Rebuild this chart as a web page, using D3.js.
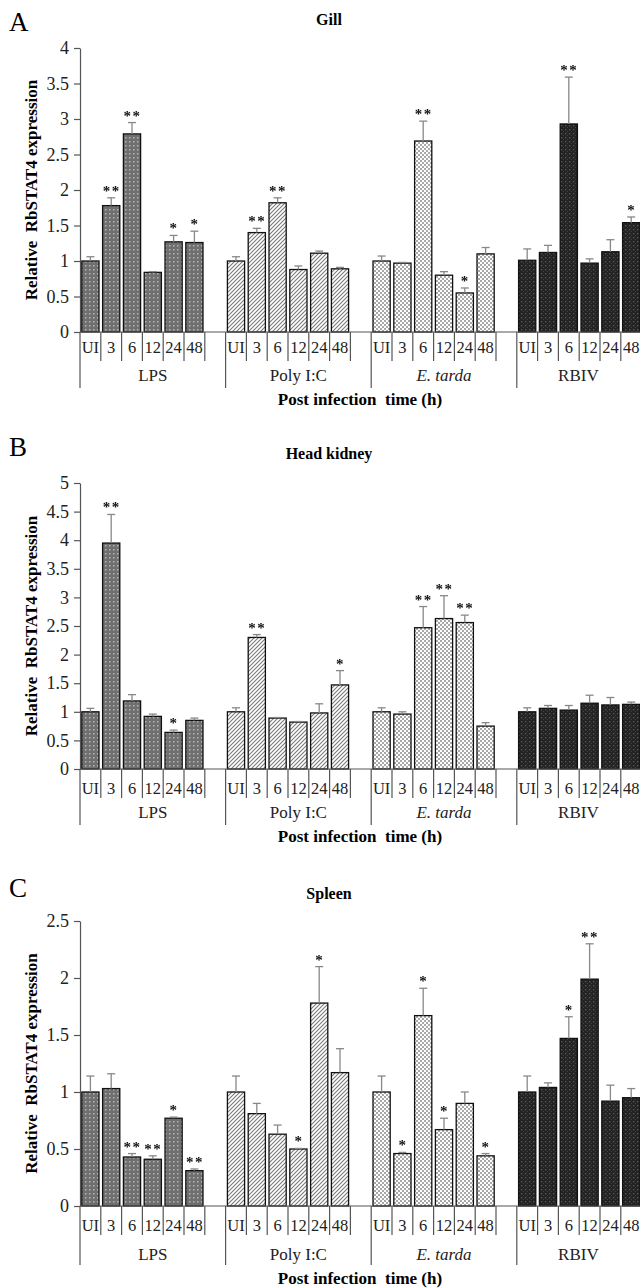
<!DOCTYPE html>
<html>
<head>
<meta charset="utf-8">
<script src="https://cdn.jsdelivr.net/npm/d3@7"></script>
<style>
  body { margin: 0; background: #fff; }
  text { font-family: "Liberation Serif", "DejaVu Serif", serif; }
</style>
</head>
<body>
<div class="canvas"></div>
<script>
// categories
const groups = ['LPS', 'Poly I:C', 'E. tarda', 'RBIV'];
const times = ['UI', '3', '6', '12', '24', '48'];

// Gill (A)
const gillMean = [1.00, 1.78, 2.79, 0.84, 1.27, 1.26,
                  1.00, 1.40, 1.82, 0.88, 1.11, 0.89,
                  1.00, 0.97, 2.69, 0.80, 0.55, 1.10,
                  1.01, 1.12, 2.93, 0.97, 1.13, 1.54];
const gillErr  = [0.06, 0.11, 0.16, 0.01, 0.09, 0.16,
                  0.06, 0.06, 0.07, 0.05, 0.03, 0.02,
                  0.07, 0.01, 0.28, 0.05, 0.07, 0.09,
                  0.16, 0.10, 0.66, 0.06, 0.17, 0.08];
const gillSig  = ['', '**', '**', '', '*', '*',
                  '', '**', '**', '', '', '',
                  '', '', '**', '', '*', '',
                  '', '', '**', '', '', '*'];

// Head kidney (B)
const kidneyMean = [1.00, 3.95, 1.19, 0.92, 0.64, 0.85,
                    1.00, 2.30, 0.89, 0.82, 0.98, 1.47,
                    1.00, 0.96, 2.47, 2.63, 2.56, 0.75,
                    1.00, 1.06, 1.03, 1.15, 1.12, 1.13];
const kidneyErr  = [0.06, 0.50, 0.11, 0.04, 0.04, 0.04,
                    0.07, 0.05, 0.01, 0.01, 0.16, 0.25,
                    0.07, 0.04, 0.37, 0.40, 0.13, 0.06,
                    0.07, 0.05, 0.08, 0.14, 0.13, 0.04];
const kidneySig  = ['', '**', '', '', '*', '',
                    '', '**', '', '', '', '*',
                    '', '', '**', '**', '**', '',
                    '', '', '', '', '', ''];

// Spleen (C)
const spleenMean = [1.00, 1.03, 0.43, 0.41, 0.77, 0.31,
                    1.00, 0.81, 0.63, 0.50, 1.78, 1.17,
                    1.00, 0.46, 1.67, 0.67, 0.90, 0.44,
                    1.00, 1.04, 1.47, 1.99, 0.92, 0.95];
const spleenErr  = [0.14, 0.13, 0.03, 0.03, 0.01, 0.015,
                    0.14, 0.09, 0.08, 0.005, 0.32, 0.21,
                    0.14, 0.01, 0.24, 0.10, 0.10, 0.02,
                    0.14, 0.04, 0.19, 0.31, 0.14, 0.08];
const spleenSig  = ['', '', '**', '**', '*', '**',
                    '', '', '', '*', '*', '',
                    '', '*', '*', '*', '', '*',
                    '', '', '*', '**', '', ''];

const gillTicks = [0, 0.5, 1, 1.5, 2, 2.5, 3, 3.5, 4];
const kidneyTicks = [0, 0.5, 1, 1.5, 2, 2.5, 3, 3.5, 4, 4.5, 5];
const spleenTicks = [0, 0.5, 1, 1.5, 2, 2.5];

const svg = d3.select('.canvas')
    .append('svg')
    .attr('width', 640)
    .attr('height', 1288);

// fill patterns, one per treatment
const defs = svg.append('defs');

const pLps = defs.append('pattern').attr('id', 'p0')
    .attr('patternUnits', 'userSpaceOnUse').attr('width', 4).attr('height', 4);
pLps.append('rect').attr('width', 4).attr('height', 4).attr('fill', '#6f6f6f');
pLps.append('rect').attr('x', 1).attr('y', 1).attr('width', 1.5).attr('height', 1.5).attr('fill', '#b4b4b4');

const pPoly = defs.append('pattern').attr('id', 'p1')
    .attr('patternUnits', 'userSpaceOnUse').attr('width', 4).attr('height', 4);
pPoly.append('rect').attr('width', 4).attr('height', 4).attr('fill', '#fff');
pPoly.append('path').attr('d', 'M0,4 L4,0 M-1,1 L1,-1 M3,5 L5,3')
    .attr('stroke', '#7a7a7a').attr('stroke-width', 1.1);

const pTarda = defs.append('pattern').attr('id', 'p2')
    .attr('patternUnits', 'userSpaceOnUse').attr('width', 4).attr('height', 4);
pTarda.append('rect').attr('width', 4).attr('height', 4).attr('fill', '#fff');
pTarda.append('rect').attr('width', 2).attr('height', 2).attr('fill', '#a8a8a8');
pTarda.append('rect').attr('x', 2).attr('y', 2).attr('width', 2).attr('height', 2).attr('fill', '#a8a8a8');

const pRbiv = defs.append('pattern').attr('id', 'p3')
    .attr('patternUnits', 'userSpaceOnUse').attr('width', 4).attr('height', 4);
pRbiv.append('rect').attr('width', 4).attr('height', 4).attr('fill', '#232323');
pRbiv.append('rect').attr('x', 1).attr('y', 1).attr('width', 1.3).attr('height', 1.3).attr('fill', '#5a5a5a');
pRbiv.append('rect').attr('x', 3).attr('y', 3).attr('width', 1).attr('height', 1).attr('fill', '#444');

// no-op filter so the small star text is rasterised in grayscale
const flat = defs.append('filter').attr('id', 'flat');
flat.append('feOffset').attr('dx', 0).attr('dy', 0);

// 27 slots: 6 bars per group plus one empty slot between groups
const slots = d3.range(27);
const x = d3.scaleBand()
    .domain(slots)
    .range([80, 641.6])
    .padding(0);

function slotOf(i) {
    return Math.floor(i / 6) * 7 + (i % 6);
}

function drawPanel(p) {
    const y = d3.scaleLinear()
        .domain([0, p.max])
        .range([p.bottom, p.top]);

    const g = svg.append('g');

    g.append('text')
        .attr('x', 9).attr('y', p.letterY)
        .attr('font-size', 27)
        .text(p.letter);

    g.append('text')
        .attr('x', 329).attr('y', p.titleY)
        .attr('text-anchor', 'middle')
        .attr('font-size', 16).attr('font-weight', 'bold')
        .text(p.title);

    // y axis
    const yAxis = d3.axisLeft(y)
        .tickValues(p.ticks)
        .tickFormat(d3.format('~g'))
        .tickSize(6)
        .tickSizeOuter(0)
        .tickPadding(5);
    const ya = g.append('g')
        .attr('transform', 'translate(80,0)')
        .call(yAxis);
    ya.attr('font-family', null);
    ya.select('.domain').attr('stroke', '#555').attr('stroke-width', 1.2);
    ya.selectAll('.tick line').attr('stroke', '#555').attr('stroke-width', 1.2);
    ya.selectAll('.tick text')
        .style('font-size', '18px').attr('fill', '#222');

    g.append('text')
        .attr('transform', `translate(37,${(p.top + p.bottom) / 2}) rotate(-90)`)
        .attr('text-anchor', 'middle')
        .attr('font-size', 17).attr('font-weight', 'bold')
        .attr('xml:space', 'preserve')
        .text('Relative  RbSTAT4 expression');

    // bars
    g.selectAll('rect.bar')
        .data(p.mean)
        .enter()
        .append('rect')
        .attr('class', 'bar')
        .attr('x', (d, i) => x(slotOf(i)) + 1.8)
        .attr('width', x.bandwidth() - 3.6)
        .attr('y', d => y(d))
        .attr('height', d => y(0) - y(d))
        .attr('fill', (d, i) => `url(#p${Math.floor(i / 6)})`)
        .attr('stroke', '#111')
        .attr('stroke-width', 1.3);

    // error bars
    const eb = g.selectAll('g.err')
        .data(p.mean)
        .enter()
        .append('g')
        .attr('class', 'err')
        .attr('stroke', '#888')
        .attr('stroke-width', 1.3);
    eb.append('line')
        .attr('x1', (d, i) => x(slotOf(i)) + x.bandwidth() / 2)
        .attr('x2', (d, i) => x(slotOf(i)) + x.bandwidth() / 2)
        .attr('y1', d => y(d))
        .attr('y2', (d, i) => y(d + p.err[i]));
    eb.append('line')
        .attr('x1', (d, i) => x(slotOf(i)) + x.bandwidth() / 2 - 4)
        .attr('x2', (d, i) => x(slotOf(i)) + x.bandwidth() / 2 + 4)
        .attr('y1', (d, i) => y(d + p.err[i]))
        .attr('y2', (d, i) => y(d + p.err[i]));

    // significance stars
    g.append('g')
        .attr('filter', 'url(#flat)')
        .selectAll('text.sig')
        .data(p.mean)
        .enter()
        .append('text')
        .attr('class', 'sig')
        .attr('x', (d, i) => x(slotOf(i)) + x.bandwidth() / 2 + 0.5)
        .attr('y', (d, i) => y(d + p.err[i]) - 2)
        .attr('text-anchor', 'middle')
        .attr('font-size', 15)
        .attr('font-weight', 'bold')
        .attr('letter-spacing', 1.5)
        .attr('fill', '#111')
        .text((d, i) => p.sig[i]);

    // category axis
    const base = p.bottom;
    g.append('line')
        .attr('x1', 80).attr('x2', 640)
        .attr('y1', base).attr('y2', base)
        .attr('stroke', '#555').attr('stroke-width', 1.2);

    groups.forEach((name, gi) => {
        const s0 = gi * 7;
        // dividers
        for (let k = 0; k <= 6; k++) {
            const xx = x(s0 + k) !== undefined ? x(s0 + k) : 641.6;
            g.append('line')
                .attr('x1', xx).attr('x2', xx)
                .attr('y1', base).attr('y2', base + (k === 0 ? p.longLine : 29))
                .attr('stroke', '#555').attr('stroke-width', 1.2);
        }
        times.forEach((t, k) => {
            g.append('text')
                .attr('x', x(s0 + k) + x.bandwidth() / 2)
                .attr('y', base + p.catY)
                .attr('text-anchor', 'middle')
                .attr('font-size', 16.5).attr('fill', '#222')
                .text(t);
        });
        const gx0 = x(s0);
        const gx1 = gi < 3 ? x(s0 + 7) : 640;
        const gl = g.append('text')
            .attr('x', (gx0 + gx1) / 2)
            .attr('y', base + p.groupY)
            .attr('text-anchor', 'middle')
            .attr('font-size', 17).attr('fill', '#222')
            .text(name);
        if (name === 'E. tarda') gl.attr('font-style', 'italic');
    });

    g.append('text')
        .attr('x', 360).attr('y', base + p.axisY)
        .attr('text-anchor', 'middle')
        .attr('font-size', 17).attr('font-weight', 'bold')
        .attr('xml:space', 'preserve')
        .text('Post infection  time (h)');
}

drawPanel({
    letter: 'A', letterY: 31, title: 'Gill', titleY: 25,
    top: 48, bottom: 332, max: 4, ticks: gillTicks,
    mean: gillMean, err: gillErr, sig: gillSig,
    catY: 21, groupY: 49, axisY: 73, longLine: 56
});

drawPanel({
    letter: 'B', letterY: 456, title: 'Head kidney', titleY: 459,
    top: 483, bottom: 769, max: 5, ticks: kidneyTicks,
    mean: kidneyMean, err: kidneyErr, sig: kidneySig,
    catY: 25, groupY: 49, axisY: 73, longLine: 56
});

drawPanel({
    letter: 'C', letterY: 897, title: 'Spleen', titleY: 899,
    top: 921, bottom: 1206, max: 2.5, ticks: spleenTicks,
    mean: spleenMean, err: spleenErr, sig: spleenSig,
    catY: 25, groupY: 54, axisY: 78, longLine: 59
});
</script>
</body>
</html>
